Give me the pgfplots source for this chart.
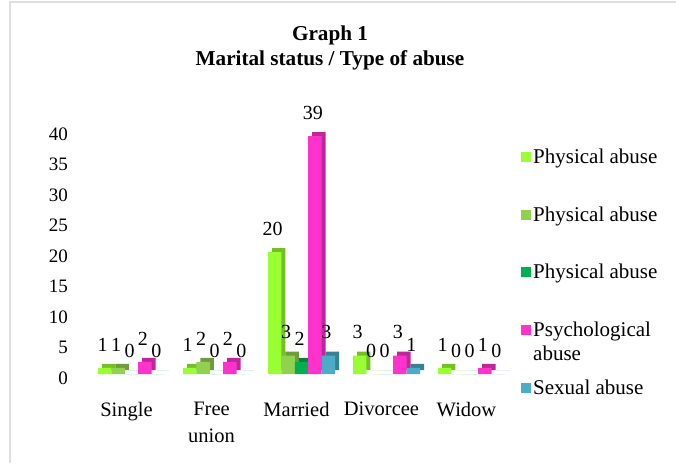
\documentclass[border=0pt]{standalone}
\usepackage{fontspec}
\setmainfont{Liberation Serif}
\usepackage{pgfplots}
\usepackage{pgfplotstable}
\pgfplotsset{compat=1.18}
\definecolor{cA}{RGB}{153,255,51}
\definecolor{cB}{RGB}{146,208,80}
\definecolor{cC}{RGB}{0,176,80}
\definecolor{cD}{RGB}{255,51,204}
\definecolor{cE}{RGB}{75,172,198}
\pgfplotstableread{
x a b c d e
0 1 1 0 2 0
1 1 2 0 2 0
2 20 3 2 39 3
3 3 0 0 3 1
4 1 0 0 1 0
}\data
\begin{document}
\begin{tikzpicture}
\path[use as bounding box] (0pt,0pt) rectangle (676pt,463pt);
\draw[gray!25, line width=1.5pt] (10pt,0pt) -- (10pt,461pt) -- (676pt,461pt);
\node[font=\fontsize{21.2}{25}\selectfont\bfseries, align=center] at (330pt,415.5pt) {Graph 1\\Marital status / Type of abuse};
\begin{axis}[
  at={(89pt,89pt)}, anchor=south west, scale only axis,
  width=425pt, height=256.2pt,
  xmin=-0.5, xmax=4.5, ymin=0, ymax=42,
  axis line style={draw=none}, tick style={draw=none},
  ytick={0,5,...,40},
  xtick={0,1,2,3,4},
  xticklabels={Single,{Free\\union},Married,Divorcee,Widow},
  xticklabel style={align=center, font=\fontsize{20.5}{27}\selectfont, xshift=-5pt, yshift=-20pt},
  yticklabel style={font=\fontsize{19}{22}\selectfont, xshift=-17.7pt, yshift=-4pt},
  /pgf/number format/assume math mode=true,
  ybar, bar width=13.4pt,
  clip=false,
  nodes near coords style={font=\fontsize{20}{22}\selectfont, yshift=13pt, xshift=-2pt},
  legend image code/.code={\path[#1] (0pt,-5pt) rectangle (10pt,5pt);},
  legend cell align=left,
  legend style={at={(1.0165,0.886)}, anchor=north west, draw=none, fill=none, inner sep=0pt,
    font=\fontsize{21}{24}\selectfont, row sep=37.5pt},
]
% depth faces (3D effect)
\addplot[ybar, bar shift=-22.8pt, fill=cA!75!black, draw=none, yshift=4pt, forget plot] table[x=x,y=a]{\data};
\addplot[ybar, bar shift=-26.8pt, fill=cA, draw=none, forget plot, nodes near coords] table[x=x,y=a]{\data};
\addplot[ybar, bar shift=-9.4pt, fill=cB!75!black, draw=none, yshift=4pt, forget plot] table[x=x,y=b]{\data};
\addplot[ybar, bar shift=-13.4pt, fill=cB, draw=none, forget plot, nodes near coords] table[x=x,y=b]{\data};
\addplot[ybar, bar shift=4pt, fill=cC!75!black, draw=none, yshift=4pt, forget plot] table[x=x,y=c]{\data};
\addplot[ybar, bar shift=0pt, fill=cC, draw=none, forget plot, nodes near coords] table[x=x,y=c]{\data};
\addplot[ybar, bar shift=17.4pt, fill=cD!75!black, draw=none, yshift=4pt, forget plot] table[x=x,y=d]{\data};
\addplot[ybar, bar shift=13.4pt, fill=cD, draw=none, forget plot, nodes near coords] table[x=x,y=d]{\data};
\addplot[ybar, bar shift=30.8pt, fill=cE!75!black, draw=none, yshift=4pt, forget plot] table[x=x,y=e]{\data};
\addplot[ybar, bar shift=26.8pt, fill=cE, draw=none, forget plot, nodes near coords] table[x=x,y=e]{\data};
\addlegendimage{fill=cA, draw=none}
\addlegendentry{Physical abuse}
\addlegendimage{fill=cB, draw=none}
\addlegendentry{Physical abuse}
\addlegendimage{fill=cC, draw=none}
\addlegendentry{Physical abuse}
\addlegendimage{fill=cD, draw=none}
\addlegendentry{\smash{\makebox[0pt][l]{\raisebox{-24pt}{abuse}}}Psychological}
\addlegendimage{fill=cE, draw=none}
\addlegendentry{Sexual abuse}
\end{axis}
\end{tikzpicture}
\end{document}
